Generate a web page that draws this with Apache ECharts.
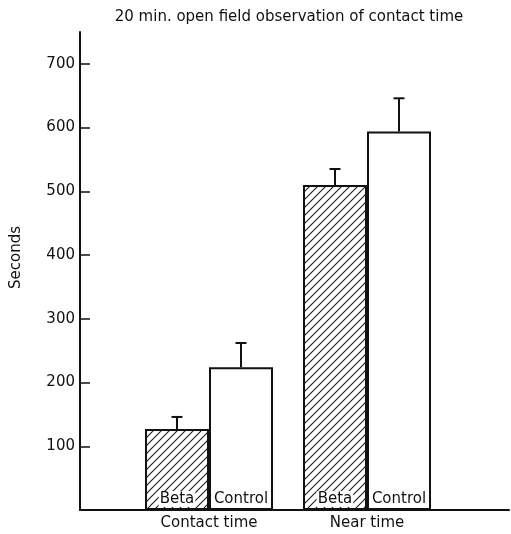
<!DOCTYPE html>
<html>
<head>
<meta charset="utf-8">
<script src="https://cdn.jsdelivr.net/npm/echarts@6/dist/echarts.min.js"></script>
<style>
  html, body { margin: 0; padding: 0; background: #fff; }
  #chart { width: 511px; height: 534px; }
</style>
</head>
<body>
<div id="chart"></div>
<script>
// Open-field observation: mean seconds per group, with SEM (upper bar only)
const categories = ['Contact time', 'Near time'];
const groups = ['Beta', 'Control'];
const betaMeans = [127, 510];
const betaSem = [19, 25];
const controlMeans = [224, 594];
const controlSem = [38, 52];
const yTicks = [100, 200, 300, 400, 500, 600, 700];

const FONT = 'DejaVu Sans';
const INK = '#111';
const BAR_W = 64;

// Diagonal "/" hatching tile for the Beta bars
function hatchPattern() {
  const s = 8;
  const c = document.createElement('canvas');
  c.width = s; c.height = s;
  const g = c.getContext('2d');
  g.fillStyle = '#fff';
  g.fillRect(0, 0, s, s);
  g.strokeStyle = '#1a1a1a';
  g.lineWidth = 1.1;
  for (const k of [0, s, 2 * s]) {
    g.beginPath();
    g.moveTo(-2, k + 2);
    g.lineTo(k + 2, -2);
    g.stroke();
  }
  return c;
}

// Upward error bar with a cap, shifted to its bar within the category band
function errorBar(offset) {
  return function (params, api) {
    const ci = api.value(0);
    const mean = api.value(1);
    const sem = api.value(2);
    const base = api.coord([ci, mean]);
    const top = api.coord([ci, mean + sem]);
    const x = base[0] + offset;
    const half = 5.5;
    const style = { stroke: INK, lineWidth: 2 };
    return {
      type: 'group',
      children: [
        { type: 'line', shape: { x1: x, y1: base[1], x2: x, y2: top[1] }, style: style },
        { type: 'line', shape: { x1: x - half, y1: top[1], x2: x + half, y2: top[1] }, style: style }
      ]
    };
  };
}

const barLabel = {
  show: true,
  position: 'insideBottom',
  distance: 3,
  formatter: '{a}',
  fontFamily: FONT,
  fontSize: 15,
  color: INK,
  backgroundColor: '#fff',
  padding: [1, 1, 0, 1]
};

const chart = echarts.init(document.getElementById('chart'), null, { renderer: 'canvas' });

chart.setOption({
  animation: false,
  backgroundColor: '#fff',
  title: {
    text: '20 min. open field observation of contact time',
    left: 284,
    top: 5,
    textAlign: 'center',
    textStyle: { fontFamily: FONT, fontSize: 15, fontWeight: 'normal', color: INK }
  },
  graphic: [{
    type: 'text',
    left: 9,
    top: 226,
    rotation: Math.PI / 2,
    style: { text: 'Seconds', fontFamily: FONT, fontSize: 15, fill: INK }
  }],
  grid: [
    { left: 80, right: 2, top: 32, bottom: 24 },
    { left: 130, right: 65, top: 32, bottom: 24 }
  ],
  xAxis: [
    {
      gridIndex: 0, type: 'value', min: 0, max: 1,
      axisLine: { show: true, lineStyle: { color: INK, width: 2 } },
      axisTick: { show: false }, axisLabel: { show: false }, splitLine: { show: false }
    },
    {
      gridIndex: 1, type: 'category', data: categories,
      axisLine: { show: false }, axisTick: { show: false }, splitLine: { show: false },
      axisLabel: { fontFamily: FONT, fontSize: 15, color: INK, margin: 6 }
    }
  ],
  yAxis: [
    {
      gridIndex: 0, type: 'value', min: 0, max: 750,
      axisLine: { show: true, lineStyle: { color: INK, width: 2 } },
      axisTick: {
        show: true, inside: true, length: 10, customValues: yTicks,
        lineStyle: { color: INK, width: 1.5 }
      },
      axisLabel: {
        fontFamily: FONT, fontSize: 15, color: INK, margin: 5, customValues: yTicks
      },
      splitLine: { show: false }
    },
    {
      gridIndex: 1, type: 'value', min: 0, max: 750, show: false
    }
  ],
  series: [
    {
      name: groups[0], type: 'bar', xAxisIndex: 1, yAxisIndex: 1,
      data: betaMeans, barWidth: BAR_W, barGap: '0%',
      itemStyle: { color: { image: hatchPattern(), repeat: 'repeat' }, borderColor: INK, borderWidth: 2 },
      label: barLabel
    },
    {
      name: groups[1], type: 'bar', xAxisIndex: 1, yAxisIndex: 1,
      data: controlMeans, barWidth: BAR_W, barGap: '0%',
      itemStyle: { color: '#fff', borderColor: INK, borderWidth: 2 },
      label: barLabel
    },
    {
      type: 'custom', xAxisIndex: 1, yAxisIndex: 1, z: 5,
      renderItem: errorBar(-BAR_W / 2),
      data: betaMeans.map((m, i) => [i, m, betaSem[i]])
    },
    {
      type: 'custom', xAxisIndex: 1, yAxisIndex: 1, z: 5,
      renderItem: errorBar(BAR_W / 2),
      data: controlMeans.map((m, i) => [i, m, controlSem[i]])
    }
  ]
});
</script>
</body>
</html>
